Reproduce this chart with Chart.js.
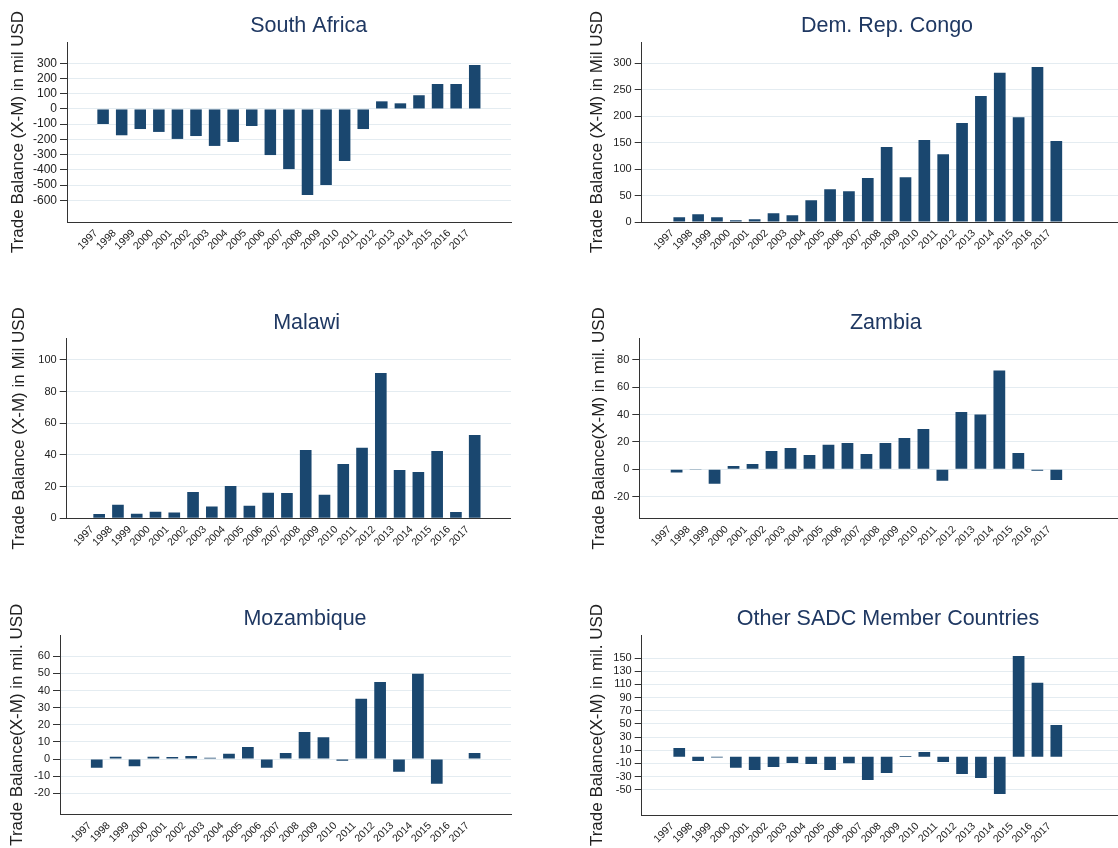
<!DOCTYPE html>
<html>
<head>
<meta charset="utf-8">
<script src="https://cdn.jsdelivr.net/npm/chart.js@4.4.1/dist/chart.umd.min.js"></script>
<style>
  html, body { margin: 0; padding: 0; background: #fff; overflow: hidden; width: 1118px; height: 848px; }
  canvas { position: absolute; left: 0; top: 0; }
</style>
</head>
<body>
<canvas id="pSouthAfrica"></canvas>
<canvas id="pCongo"></canvas>
<canvas id="pMalawi"></canvas>
<canvas id="pZambia"></canvas>
<canvas id="pMozambique"></canvas>
<canvas id="pOther"></canvas>
<script>
// Trade balance (exports minus imports), million USD, 1997-2017
const years = ['1997','1998','1999','2000','2001','2002','2003','2004','2005','2006','2007',
               '2008','2009','2010','2011','2012','2013','2014','2015','2016','2017'];

const southAfrica = [-99,-173,-132,-151,-197,-178,-243,-217,-112,-303,-395,
                     -566,-500,-342,-132,50,37,90,164,164,289];
const drCongo     = [8.8,14.5,8.8,3.2,5,16.4,12.6,41,62,58,83,
                     141.5,84.6,154.8,128,187,238,281.7,198,293,152.8];
const malawi      = [2.7,8.6,2.9,4.2,3.6,16.6,7.4,20.4,8,16.2,16,
                     43.2,14.9,34.3,44.6,91.8,30.5,29.3,42.5,4,52.6];
const zambia      = [-2.4,-0.5,-10.5,2.4,3.9,13.4,15.6,10.5,18,19.3,11.2,
                     19.3,22.9,29.5,-8.3,42,40,72.2,12,-1,-7.8];
const mozambique  = [-5.1,1.4,-4.1,1.4,1.2,1.8,0.8,3.1,7,-5.1,3.5,
                     15.8,12.8,-1,35.2,45,-7.4,49.8,-14.4,0.3,3.5];
const otherSadc   = [13.3,-6.5,-1,-16.6,-20.1,-15.6,-9.5,-11,-20.1,-10,-35.3,
                     -24.7,1,7.2,-8,-26.2,-32.3,-56.6,153,112.5,48.2];

// y-axis tick labels of each panel
const ticksSouthAfrica = [300,200,100,0,-100,-200,-300,-400,-500,-600];
const ticksCongo       = [0,50,100,150,200,250,300];
const ticksMalawi      = [0,20,40,60,80,100];
const ticksZambia      = [-20,0,20,40,60,80];
const ticksMozambique  = [-20,-10,0,10,20,30,40,50,60];
const ticksOther       = [-50,-30,-10,10,30,50,70,90,110,130,150];

const W = 1118, H = 848, XH = 30;
const FONT = '"Liberation Sans", Arial, Helvetica, sans-serif';
Chart.defaults.font.family = FONT;

const BAR = '#1a476f';
const TITLE = '#1f3862';
const INK = '#222222';
const AXIS = '#333333';
const GRID = '#e4ecf1';

// panel heading drawn on the chart canvas
const panelTitle = {
  id: 'panelTitle',
  afterDraw(chart, args, o) {
    const ctx = chart.ctx;
    ctx.save();
    ctx.font = o.size + 'px ' + FONT;
    ctx.fillStyle = o.color;
    ctx.textAlign = 'center';
    ctx.textBaseline = 'alphabetic';
    ctx.fillText(o.text, o.x, o.y);
    ctx.restore();
  }
};

const panels = [
  { id: 'pSouthAfrica', title: 'South Africa', yTitle: 'Trade Balance (X-M) in mil USD',
    values: southAfrica, ticks: ticksSouthAfrica, yMin: -743, yMax: 440, xMin: -1.374, xMax: 21.384,
    area: { left: 67, right: 511, top: 42, bottom: 222 }, head: [308.7, 32.3], yTitleX: 18, tickSize: 12 },
  { id: 'pCongo', title: 'Dem. Rep. Congo', yTitle: 'Trade Balance (X-M) in Mil USD',
    values: drCongo, ticks: ticksCongo, yMin: 0, yMax: 340, xMin: -1.39, xMax: 22.67,
    area: { left: 641.7, right: 1118, top: 42, bottom: 222 }, head: [887, 32.3], yTitleX: 597.5, tickSize: 11 },
  { id: 'pMalawi', title: 'Malawi', yTitle: 'Trade Balance (X-M) in Mil USD',
    values: malawi, ticks: ticksMalawi, yMin: 0, yMax: 113.7, xMin: -1.166, xMax: 21.37,
    area: { left: 66.7, right: 511, top: 338.3, bottom: 518.3 }, head: [306.6, 328.6], yTitleX: 19.5, tickSize: 11 },
  { id: 'pZambia', title: 'Zambia', yTitle: 'Trade Balance(X-M) in mil. USD',
    values: zambia, ticks: ticksZambia, yMin: -35.8, yMax: 95.8, xMin: -1.364, xMax: 22.65,
    area: { left: 639.3, right: 1118, top: 338.3, bottom: 518.3 }, head: [885.8, 328.6], yTitleX: 599, tickSize: 11 },
  { id: 'pMozambique', title: 'Mozambique', yTitle: 'Trade Balance(X-M) in mil. USD',
    values: mozambique, ticks: ticksMozambique, yMin: -32.3, yMax: 72.4, xMin: -1.376, xMax: 21.36,
    area: { left: 60, right: 511, top: 635, bottom: 814.5 }, head: [305, 625], yTitleX: 17.5, tickSize: 11 },
  { id: 'pOther', title: 'Other SADC Member Countries', yTitle: 'Trade Balance(X-M) in mil. USD',
    values: otherSadc, ticks: ticksOther, yMin: -88.5, yMax: 185, xMin: -1.39, xMax: 22.67,
    area: { left: 641.7, right: 1118, top: 635, bottom: 815 }, head: [888, 625], yTitleX: 597.5, tickSize: 11 }
];

const Y_TITLE_SIZE = 17, Y_TITLE_PAD = 2;

panels.forEach(p => {
  const canvas = document.getElementById(p.id);
  canvas.width = W; canvas.height = H;
  const padL = p.yTitleX - Y_TITLE_SIZE * 0.6 - Y_TITLE_PAD;
  const yw = p.area.left - padL;

  new Chart(canvas, {
    type: 'bar',
    data: {
      datasets: [{
        data: years.map((yr, i) => ({ x: i, y: p.values[i] })),
        backgroundColor: BAR,
        borderWidth: 0,
        categoryPercentage: 1,
        barPercentage: 0.62
      }]
    },
    options: {
      responsive: false,
      animation: false,
      devicePixelRatio: 1,
      layout: { padding: { left: padL, right: W - p.area.right, top: p.area.top, bottom: H - p.area.bottom - XH } },
      plugins: {
        legend: { display: false },
        title: { display: false },
        tooltip: { enabled: false },
        panelTitle: { text: p.title, x: p.head[0], y: p.head[1], size: 21.5, color: TITLE }
      },
      scales: {
        x: {
          type: 'linear',
          min: p.xMin, max: p.xMax,
          afterBuildTicks: s => { s.ticks = years.map((yr, i) => ({ value: i })); },
          afterFit: s => { s.height = XH; },
          grid: { display: false, drawTicks: false },
          border: { display: true, color: AXIS, width: 1 },
          ticks: {
            autoSkip: false, minRotation: 45, maxRotation: 45, padding: 5, labelOffset: -7,
            color: INK, font: { size: 10.5 },
            callback: v => years[v]
          }
        },
        y: {
          type: 'linear',
          min: p.yMin, max: p.yMax,
          afterBuildTicks: s => { s.ticks = p.ticks.map(v => ({ value: v })); },
          afterFit: s => { s.width = yw; },
          grid: { color: GRID, lineWidth: 1, tickColor: AXIS, tickLength: 7 },
          border: { display: true, color: AXIS, width: 1 },
          ticks: { padding: 3, color: INK, font: { size: p.tickSize }, callback: v => String(v) },
          title: {
            display: true, text: p.yTitle, color: INK,
            font: { size: Y_TITLE_SIZE },
            padding: { top: Y_TITLE_PAD, bottom: 0 }
          }
        }
      }
    },
    plugins: [panelTitle]
  });
});
</script>
</body>
</html>
